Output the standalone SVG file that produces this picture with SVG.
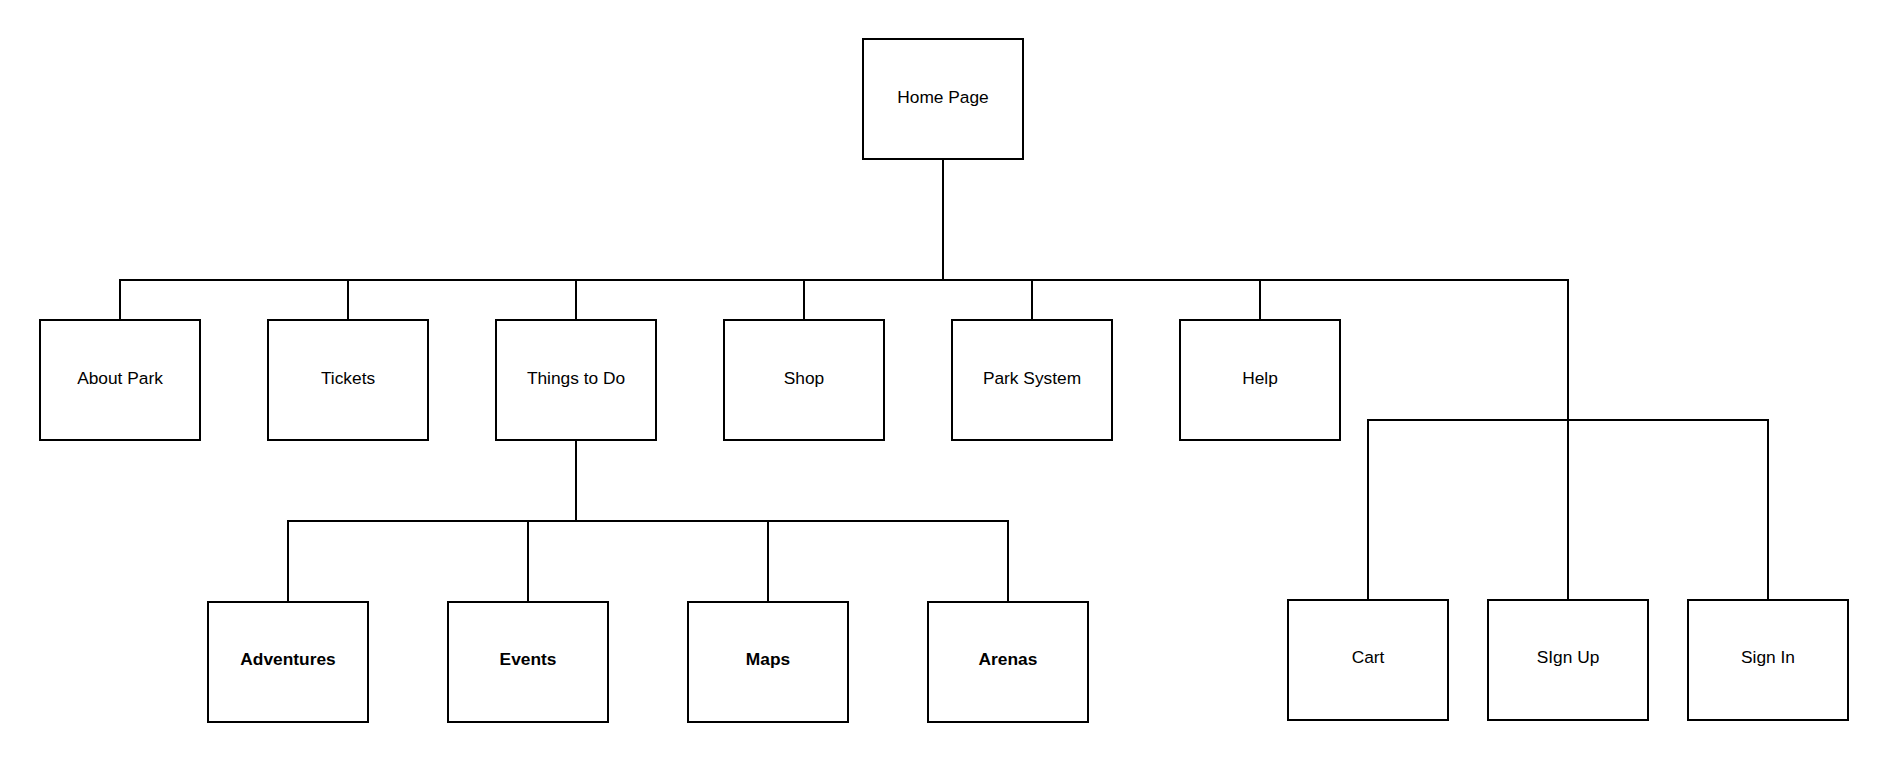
<svg xmlns="http://www.w3.org/2000/svg" width="1888" height="762" viewBox="0 0 1888 762">
<style>
.box{fill:#ffffff;stroke:#000000;stroke-width:2}
.lbl{font-family:"Liberation Sans",Arial,sans-serif;font-size:17.33px;fill:#000000;text-anchor:middle}
.b{font-weight:bold}
.con{fill:none;stroke:#000000;stroke-width:2}
</style>
<rect width="1888" height="762" fill="#ffffff"/>
<g id="connectors">
<path class="con" d="M943,159 V280"/>
<path class="con" d="M120,320 V280 H1568 V600"/>
<path class="con" d="M348,280 V320 M576,280 V320 M804,280 V320 M1032,280 V320 M1260,280 V320"/>
<path class="con" d="M576,440 V521"/>
<path class="con" d="M288,602 V521 H1008 V602 M528,521 V602 M768,521 V602"/>
<path class="con" d="M1368,600 V420 H1768 V600"/>
</g>
<g id="home"><rect class="box" x="863" y="39" width="160" height="120"/><text class="lbl" x="943" y="103">Home Page</text></g>
<g id="about"><rect class="box" x="40" y="320" width="160" height="120"/><text class="lbl" x="120" y="384">About Park</text></g>
<g id="tickets"><rect class="box" x="268" y="320" width="160" height="120"/><text class="lbl" x="348" y="384">Tickets</text></g>
<g id="things"><rect class="box" x="496" y="320" width="160" height="120"/><text class="lbl" x="576" y="384">Things to Do</text></g>
<g id="shop"><rect class="box" x="724" y="320" width="160" height="120"/><text class="lbl" x="804" y="384">Shop</text></g>
<g id="parksystem"><rect class="box" x="952" y="320" width="160" height="120"/><text class="lbl" x="1032" y="384">Park System</text></g>
<g id="help"><rect class="box" x="1180" y="320" width="160" height="120"/><text class="lbl" x="1260" y="384">Help</text></g>
<g id="adventures"><rect class="box" x="208" y="602" width="160" height="120"/><text class="lbl b" x="288" y="665">Adventures</text></g>
<g id="events"><rect class="box" x="448" y="602" width="160" height="120"/><text class="lbl b" x="528" y="665">Events</text></g>
<g id="maps"><rect class="box" x="688" y="602" width="160" height="120"/><text class="lbl b" x="768" y="665">Maps</text></g>
<g id="arenas"><rect class="box" x="928" y="602" width="160" height="120"/><text class="lbl b" x="1008" y="665">Arenas</text></g>
<g id="cart"><rect class="box" x="1288" y="600" width="160" height="120"/><text class="lbl" x="1368" y="663">Cart</text></g>
<g id="signup"><rect class="box" x="1488" y="600" width="160" height="120"/><text class="lbl" x="1568" y="663">SIgn Up</text></g>
<g id="signin"><rect class="box" x="1688" y="600" width="160" height="120"/><text class="lbl" x="1768" y="663">Sign In</text></g>
</svg>
